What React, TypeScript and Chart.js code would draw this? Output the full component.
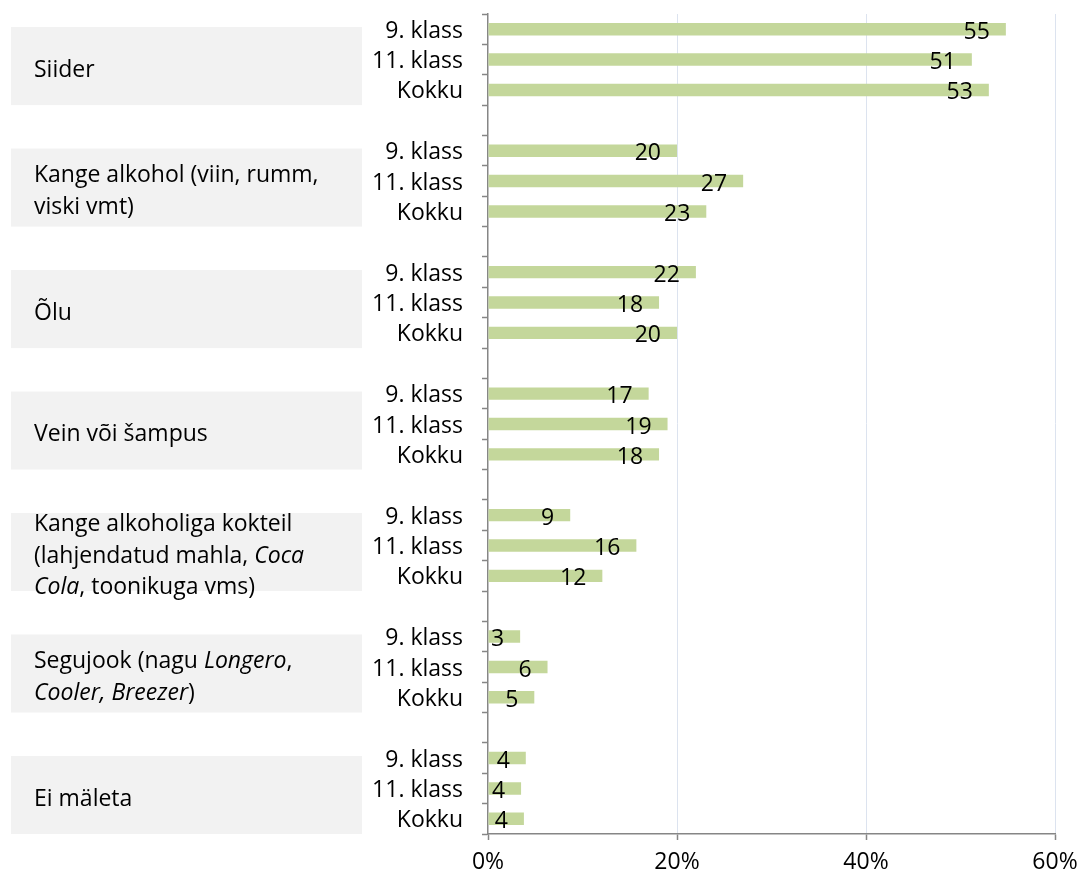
import React, { useEffect, useRef } from "react";
import { Chart, registerables } from "chart.js";

Chart.register(...registerables);

// ---- data ----
const subLabels = ["9. klass", "11. klass", "Kokku"];
// group names as lines of [text, italic] segments
const groupNames: [string, boolean][][][] = [
  [[["Siider", false]]],
  [[["Kange alkohol (viin, rumm,", false]], [["viski vmt)", false]]],
  [[["Õlu", false]]],
  [[["Vein või šampus", false]]],
  [
    [["Kange alkoholiga kokteil", false]],
    [["(lahjendatud mahla, ", false], ["Coca", true]],
    [["Cola", true], [", toonikuga vms)", false]],
  ],
  [
    [["Segujook (nagu ", false], ["Longero", true], [",", false]],
    [["Cooler, Breezer", true], [")", false]],
  ],
  [[["Ei mäleta", false]]],
];
const grade9 = [54.8, 20.0, 22.0, 17.0, 8.7, 3.4, 4.0];
const grade11 = [51.2, 27.0, 18.1, 19.0, 15.7, 6.3, 3.5];
const totalAll = [53.0, 23.1, 20.0, 18.1, 12.1, 4.9, 3.8];
const xTicks = [0, 20, 40, 60];

const FONT = "'Open Sans', 'Noto Sans', sans-serif";
const FSIZE = 23;
const BAR_COLOR = "#c4d79b";
const AXIS_COLOR = "#868686";
const GRID_COLOR = "#dce3ef";

export default function App() {
  const ref = useRef<HTMLCanvasElement>(null);

  useEffect(() => {
    const labels: string[] = [];
    const values: (number | null)[] = [];
    groupNames.forEach((_, g) => {
      const vals = [grade9[g], grade11[g], totalAll[g]];
      for (let i = 0; i < 3; i++) {
        labels.push(subLabels[i]);
        values.push(vals[i]);
      }
      if (g < groupNames.length - 1) {
        labels.push("");
        values.push(null);
      }
    });

    const groupBoxes = {
      id: "groupBoxes",
      beforeDraw(chart: any) {
        const ctx = chart.ctx;
        const y = chart.scales.y;
        const slot = (y.bottom - y.top) / labels.length;
        ctx.save();
        groupNames.forEach((lines, g) => {
          const p0 = y.getPixelForValue(4 * g);
          const top = p0 - slot / 2 + 0.43 * slot;
          const h = 2.57 * slot;
          ctx.fillStyle = "#f2f2f2";
          ctx.fillRect(11, top, 351, h);
          const lh = 31.5;
          const center = top + h / 2 + 4;
          const start = center - ((lines.length - 1) * lh) / 2;
          ctx.fillStyle = "#000";
          ctx.textBaseline = "middle";
          ctx.textAlign = "left";
          lines.forEach((segs, li) => {
            let x = 34;
            segs.forEach(([t, it]) => {
              ctx.font = `${it ? "italic " : ""}${FSIZE}px ${FONT}`;
              ctx.fillText(t, x, start + li * lh);
              x += ctx.measureText(t).width;
            });
          });
        });
        ctx.restore();
      },
    };

    const barLabels = {
      id: "barLabels",
      afterDatasetsDraw(chart: any) {
        const ctx = chart.ctx;
        const meta = chart.getDatasetMeta(0);
        ctx.save();
        ctx.font = `${FSIZE}px ${FONT}`;
        ctx.fillStyle = "#000";
        ctx.textAlign = "right";
        ctx.textBaseline = "middle";
        meta.data.forEach((el: any, i: number) => {
          const v = values[i];
          if (v === null) return;
          ctx.fillText(String(Math.round(v)), el.x - 16, el.y + 3);
        });
        ctx.restore();
      },
    };

    const chart = new Chart(ref.current!, {
      type: "bar",
      data: {
        labels,
        datasets: [
          {
            data: values,
            backgroundColor: BAR_COLOR,
            borderWidth: 0,
            barPercentage: 0.41,
            categoryPercentage: 1,
          },
        ],
      },
      options: {
        indexAxis: "y",
        animation: false,
        responsive: false,
        maintainAspectRatio: false,
        layout: { padding: { top: 14, right: 26, left: 0, bottom: 0 } },
        plugins: { legend: { display: false }, tooltip: { enabled: false } },
        scales: {
          x: {
            min: 0,
            max: 60,
            afterFit(s: any) {
              s.height = 45;
              s.paddingLeft = 0;
              s.paddingRight = 0;
            },
            afterBuildTicks(s: any) {
              s.ticks = xTicks.map((v) => ({ value: v }));
            },
            ticks: {
              callback: (v: any) => v + "%",
              color: "#000",
              font: { family: FONT, size: FSIZE },
              padding: 9,
            },
            grid: {
              color: (c: any) => (c.tick && c.tick.value === 0 ? "rgba(0,0,0,0)" : GRID_COLOR),
              lineWidth: 1,
              tickColor: AXIS_COLOR,
              tickLength: 6,
              tickWidth: 1.5,
            },
            border: { display: true, color: AXIS_COLOR, width: 1.5 },
          },
          y: {
            afterFit(s: any) {
              s.width = 488;
              s.paddingTop = 0;
              s.paddingBottom = 0;
            },
            ticks: {
              autoSkip: false,
              color: "#000",
              font: { family: FONT, size: FSIZE },
              padding: 19,
              labelOffset: 2,
            },
            grid: {
              display: true,
              drawOnChartArea: false,
              offset: true,
              tickLength: 6,
              tickColor: AXIS_COLOR,
              tickWidth: 1.5,
            },
            border: { display: true, color: AXIS_COLOR, width: 1.5 },
          },
        },
      },
      plugins: [groupBoxes, barLabels],
    });
    return () => chart.destroy();
  }, []);

  return (
    <div style={{ position: "fixed", left: 0, top: 0, width: 1081, height: 879, background: "#fff" }}>
      <canvas ref={ref} width={1081} height={879} style={{ display: "block" }} />
    </div>
  );
}
